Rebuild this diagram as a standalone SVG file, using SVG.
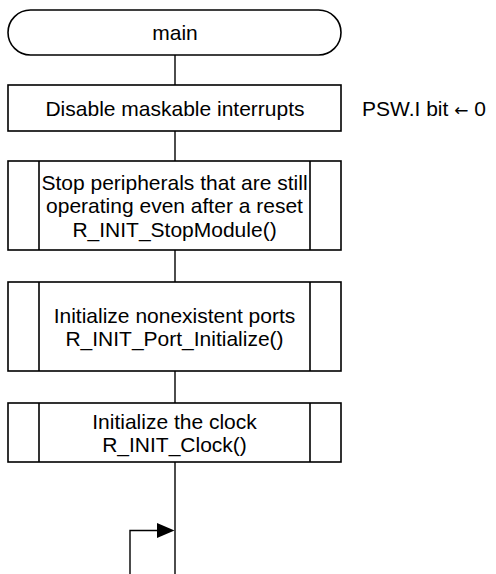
<svg xmlns="http://www.w3.org/2000/svg" width="496" height="574" viewBox="0 0 496 574">
  <style>
    .shape { fill: #ffffff; stroke: #000000; stroke-width: 1.6; }
    .bar { stroke: #000000; stroke-width: 1.6; fill: none; }
    .wire { stroke: #000000; stroke-width: 1.4; fill: none; }
    .label { font-family: "Liberation Sans", Arial, sans-serif; font-size: 21px; fill: #000000; text-anchor: middle; }
    .note { font-family: "Liberation Sans", Arial, sans-serif; font-size: 21px; fill: #000000; }
    .sym { font-family: "DejaVu Sans", sans-serif; font-size: 17px; }
  </style>
  <rect width="496" height="574" fill="#ffffff"/>

  <!-- connectors -->
  <g id="connectors">
    <line class="wire" x1="175" y1="55" x2="175" y2="85"/>
    <line class="wire" x1="175" y1="131" x2="175" y2="161"/>
    <line class="wire" x1="175" y1="250" x2="175" y2="282"/>
    <line class="wire" x1="175" y1="371" x2="175" y2="403"/>
    <line class="wire" x1="175" y1="462" x2="175" y2="574"/>
    <polyline class="wire" points="130,574 130,530.5 158,530.5"/>
    <polygon points="157,523 157,538 174.5,530.5" fill="#000000"/>
  </g>

  <!-- start terminal -->
  <g id="main">
    <rect class="shape" x="8" y="10" width="333" height="45" rx="22.5" ry="22.5"/>
    <text class="label" x="175" y="39.5">main</text>
  </g>

  <!-- disable interrupts -->
  <g id="disable-interrupts">
    <rect class="shape" x="8" y="85" width="333" height="46"/>
    <text class="label" x="175" y="115.5">Disable maskable interrupts</text>
  </g>

  <g id="psw-note">
    <text class="note" x="362" y="115.5">PSW.I bit <tspan class="sym">←</tspan> 0</text>
  </g>

  <!-- predefined process: stop modules -->
  <g id="stop-module">
    <rect class="shape" x="8" y="161" width="333" height="89"/>
    <line class="bar" x1="39" y1="161" x2="39" y2="250"/>
    <line class="bar" x1="310" y1="161" x2="310" y2="250"/>
    <text class="label" x="174.5" y="189.5">Stop peripherals that are still</text>
    <text class="label" x="174.5" y="213">operating even after a reset</text>
    <text class="label" x="174.5" y="236.5">R_INIT_StopModule()</text>
  </g>

  <!-- predefined process: port init -->
  <g id="port-initialize">
    <rect class="shape" x="8" y="282" width="333" height="89"/>
    <line class="bar" x1="39" y1="282" x2="39" y2="371"/>
    <line class="bar" x1="310" y1="282" x2="310" y2="371"/>
    <text class="label" x="174.5" y="322.5">Initialize nonexistent ports</text>
    <text class="label" x="174.5" y="346">R_INIT_Port_Initialize()</text>
  </g>

  <!-- predefined process: clock init -->
  <g id="clock">
    <rect class="shape" x="8" y="403" width="333" height="59"/>
    <line class="bar" x1="39" y1="403" x2="39" y2="462"/>
    <line class="bar" x1="310" y1="403" x2="310" y2="462"/>
    <text class="label" x="174.5" y="428.5">Initialize the clock</text>
    <text class="label" x="174.5" y="452">R_INIT_Clock()</text>
  </g>
</svg>
